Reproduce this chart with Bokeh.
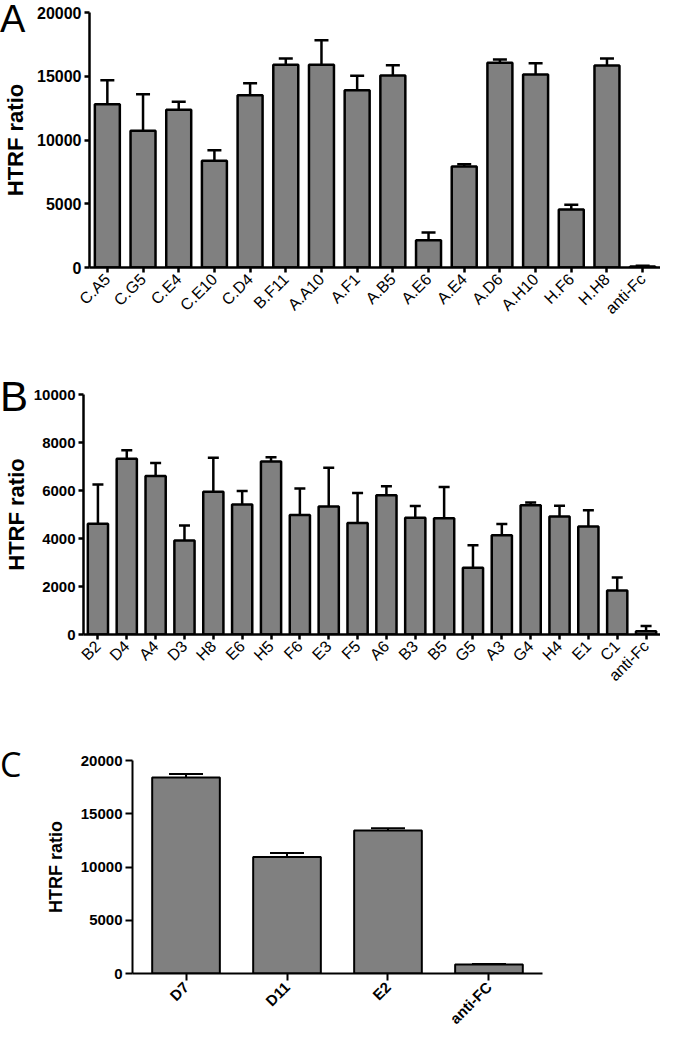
import math
from bokeh.plotting import figure
from bokeh.models import (FactorRange, Range1d, FixedTicker, ColumnDataSource,
                          Whisker, TeeHead, Div)
from bokeh.embed import file_html
from bokeh.resources import INLINE

# ---------------- data ----------------
a_cats = ["C.A5", "C.G5", "C.E4", "C.E10", "C.D4", "B.F11", "A.A10", "A.F1",
          "A.B5", "A.E6", "A.E4", "A.D6", "A.H10", "H.F6", "H.H8", "anti-Fc"]
a_vals = [12800, 10720, 12370, 8370, 13510, 15900, 15900, 13910,
          15060, 2140, 7920, 16050, 15140, 4550, 15840, 80]
a_errs = [1890, 2870, 630, 830, 950, 490, 1930, 1120,
          810, 600, 180, 260, 880, 370, 550, 60]
a_ticks = [0, 5000, 10000, 15000, 20000]

b_cats = ["B2", "D4", "A4", "D3", "H8", "E6", "H5", "F6", "E3", "F5",
          "A6", "B3", "B5", "G5", "A3", "G4", "H4", "E1", "C1", "anti-Fc"]
b_vals = [4610, 7320, 6600, 3920, 5950, 5420, 7210, 4975, 5330, 4650,
          5800, 4860, 4840, 2780, 4140, 5390, 4920, 4500, 1830, 140]
b_errs = [1640, 360, 550, 620, 1410, 555, 180, 1105, 1615, 1250,
          380, 490, 1310, 940, 460, 110, 440, 680, 545, 210]
b_ticks = [0, 2000, 4000, 6000, 8000, 10000]

c_cats = ["D7", "D11", "E2", "anti-FC"]
c_vals = [18400, 10950, 13420, 840]
c_errs = [330, 360, 210, 60]
c_ticks = [0, 5000, 10000, 15000, 20000]

panel_letters = ["A", "B", "C"]
y_title = "HTRF ratio"
FONT = "Liberation Sans"
FIG_W = 660


def make_panel(cats, vals, errs, ticks, h, bl, br, bt, bb, pad, bar_w, cap, lw,
               ytick_size, xlab_size, xlab_style, ttl_size, ttl_standoff, tick_len):
    src = ColumnDataSource(dict(x=cats, top=vals,
                                upper=[v + e for v, e in zip(vals, errs)]))
    p = figure(width=FIG_W, height=h, output_backend="svg", toolbar_location=None,
               x_range=FactorRange(*cats, range_padding=pad, factor_padding=0),
               y_range=Range1d(ticks[0], ticks[-1]),
               min_border_left=bl, min_border_right=br,
               min_border_top=bt, min_border_bottom=bb)
    p.outline_line_color = None
    p.xgrid.grid_line_color = None
    p.ygrid.grid_line_color = None

    p.vbar(x="x", top="top", bottom=0, width=bar_w, source=src,
           fill_color="#808080", line_color="black", line_width=lw)
    wh = Whisker(source=src, base="x", lower="top", upper="upper",
                 line_color="black", line_width=lw, lower_head=None,
                 upper_head=TeeHead(size=cap, line_color="black", line_width=lw))
    p.add_layout(wh)

    ya = p.yaxis[0]
    ya.ticker = FixedTicker(ticks=ticks)
    ya.minor_tick_line_color = None
    ya.major_tick_out = tick_len
    ya.major_tick_in = 0
    ya.axis_line_width = lw
    ya.major_tick_line_width = lw
    ya.major_label_text_font = FONT
    ya.major_label_text_font_style = "bold"
    ya.major_label_text_font_size = f"{ytick_size}px"
    ya.major_label_text_color = "black"
    ya.major_label_standoff = 3
    ya.axis_label = y_title
    ya.axis_label_text_font = FONT
    ya.axis_label_text_font_style = "bold"
    ya.axis_label_text_font_size = f"{ttl_size}px"
    ya.axis_label_text_color = "black"
    ya.axis_label_standoff = ttl_standoff

    xa = p.xaxis[0]
    xa.major_tick_out = tick_len
    xa.major_tick_in = 0
    xa.axis_line_width = lw
    xa.major_tick_line_width = lw
    xa.major_label_orientation = math.pi / 4
    xa.major_label_text_font = FONT
    xa.major_label_text_font_style = xlab_style
    xa.major_label_text_font_size = f"{xlab_size}px"
    xa.major_label_text_color = "black"
    xa.major_label_standoff = 4
    return p


# figure heights / borders (page y: A 8-335, B 335-705, C 705-1044)
A = dict(h=327, bl=89, br=0, bt=12, bb=60)
B = dict(h=370, bl=81, br=0, bt=67, bb=63)
C = dict(h=339, bl=132, br=118, bt=63, bb=55)

pA = make_panel(a_cats, a_vals, a_errs, a_ticks, A["h"], A["bl"], A["br"], A["bt"], A["bb"],
                0, 0.7, 14, 2.5, 16, 16, "normal", 22, 6, 5)
pB = make_panel(b_cats, b_vals, b_errs, b_ticks, B["h"], B["bl"], B["br"], B["bt"], B["bb"],
                0, 0.7, 11, 2.5, 15, 16, "normal", 22, 2, 5)
pC = make_panel(c_cats, c_vals, c_errs, c_ticks, C["h"], C["bl"], C["br"], C["bt"], C["bb"],
                0.015, 0.67, 34, 2, 15, 15, "bold", 18, 12, 7)


def letter_div(text, left, top, font, size):
    return Div(text=text, styles={"position": "absolute", "left": f"{left}px",
                                  "top": f"{top}px", "font-family": font,
                                  "font-size": f"{size}px", "line-height": "1",
                                  "color": "black", "margin": "0", "padding": "0"})


divs = [
    letter_div(panel_letters[0], 0, 0, FONT, 38),
    letter_div(panel_letters[1], 0, 376, FONT, 42),
    letter_div(panel_letters[2], 0, 747, "Open Sans", 34),
]

open("out.html", "w").write(file_html([pA, pB, pC] + divs, INLINE))
